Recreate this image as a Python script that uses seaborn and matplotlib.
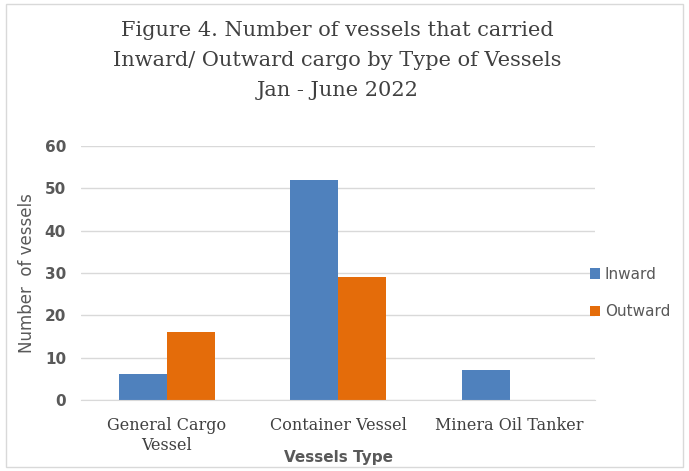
import matplotlib
matplotlib.use("Agg")
import matplotlib.pyplot as plt
import seaborn as sns
import pandas as pd
from matplotlib.patches import Rectangle

categories = ["General Cargo\nVessel", "Container Vessel", "Minera Oil Tanker"]
inward = [6, 52, 7]
outward = [16, 29, 0]
series = ["Inward", "Outward"]

df = pd.DataFrame({
    "Type": categories * 2,
    "Count": inward + outward,
    "Series": [series[0]] * 3 + [series[1]] * 3,
})

sns.set_style("white")
plt.rcParams['font.family'] = ['DejaVu Sans']

fig = plt.figure(figsize=(6.89, 4.71), dpi=100)
ax = fig.add_axes([0.118, 0.151, 0.746, 0.539])

palette = {"Inward": "#4F81BD", "Outward": "#E46C0A"}
sns.barplot(data=df, x="Type", y="Count", hue="Series", palette=palette,
            width=0.56, ax=ax, saturation=1, edgecolor="none")

ax.set_ylim(0, 60)
ax.set_yticks(range(0, 61, 10))
ax.yaxis.grid(True, color="#D9D9D9", linewidth=1)
ax.set_axisbelow(True)
for s in ["top", "right", "left"]:
    ax.spines[s].set_visible(False)
ax.spines["bottom"].set_color("#D9D9D9")
ax.tick_params(axis="both", length=0)
for lab in ax.get_yticklabels():
    lab.set_fontweight("bold")
    lab.set_color("#595959")
    lab.set_fontsize(11)
ax.tick_params(axis="y", pad=11)
ax.tick_params(axis="x", pad=12)
for lab in ax.get_xticklabels():
    lab.set_family("DejaVu Serif")
    lab.set_fontsize(11.5)
    lab.set_color("#404040")
    lab.set_linespacing(1.3)

ax.set_ylabel("Number  of vessels", fontsize=12, color="#595959", labelpad=6)
ax.set_xlabel("Vessels Type", fontsize=11, fontweight="bold", color="#595959")
ax.xaxis.set_label_coords(0.5, -0.228)
ax.xaxis.label.set_va("center")

ax.legend(loc="center left", bbox_to_anchor=(0.962, 0.42), frameon=False,
          handlelength=0.7, handleheight=0.7, handletextpad=0.3,
          labelspacing=1.45, fontsize=11, labelcolor="#595959")

fig.text(0.49, 0.955, "Figure 4. Number of vessels that carried\nInward/ Outward cargo by Type of Vessels\nJan - June 2022",
         ha="center", va="top", fontsize=15, family="DejaVu Serif", color="#404040",
         linespacing=1.72)

fig.patches.append(Rectangle((0.008, 0.008), 0.984, 0.984, transform=fig.transFigure,
                             fill=False, edgecolor="#D9D9D9", linewidth=1))

fig.savefig("out.png", dpi=100)
